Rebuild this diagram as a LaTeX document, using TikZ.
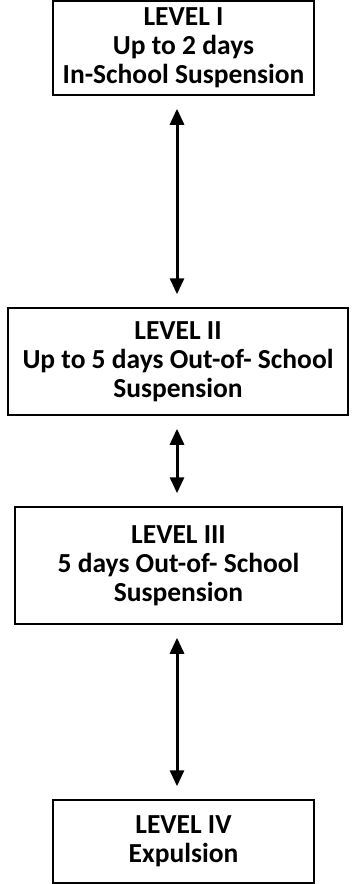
\documentclass[tikz,border=0pt]{standalone}
\usepackage{fontspec}
\setmainfont{Carlito}
\usetikzlibrary{positioning,arrows.meta}

\begin{document}
\begin{tikzpicture}[x=1pt, y=1pt,
    level/.style={draw, line width=1.5pt, align=center, inner sep=0pt,
      font=\bfseries\fontsize{27.5}{29}\selectfont},
    link/.style={{Triangle[width=14pt,length=16pt]}-{Triangle[width=14pt,length=16pt]},
      line width=3pt, shorten <=13pt, shorten >=13pt}]
    \useasboundingbox (0,0) rectangle (364,-884);
    \coordinate (axis) at (177,0);
    \node[level, minimum width=261pt, minimum height=94pt] (l1) at (183.5,-48)
      {LEVEL I\\Up to 2 days\\In-School Suspension};
    \node[level, minimum width=340pt, minimum height=107pt] (l2) at (178,-361.5)
      {LEVEL II\\Up to 5 days Out-of- School\\Suspension};
    \node[level, minimum width=327pt, minimum height=117pt] (l3) at (178.5,-565.5)
      {LEVEL III\\5 days Out-of- School\\Suspension};
    \node[level, minimum width=261pt, minimum height=83pt] (l4) at (183.5,-841.5)
      {LEVEL IV\\Expulsion};
    \draw[link] (l1.south -| axis) -- (l2.north -| axis);
    \draw[link] (l2.south -| axis) -- (l3.north -| axis);
    \draw[link] (l3.south -| axis) -- (l4.north -| axis);
\end{tikzpicture}
\end{document}
